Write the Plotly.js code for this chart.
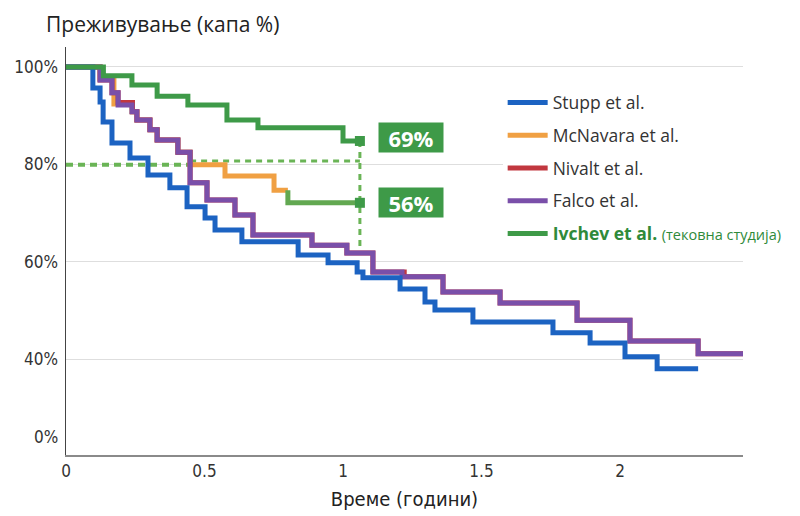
<!DOCTYPE html>
<html>
<head>
<meta charset="utf-8">
<script src="https://cdn.plot.ly/plotly-3.0.1.min.js"></script>
<style>html,body{margin:0;padding:0;background:#fff;}#chart{width:800px;height:516px;}</style>
</head>
<body>
<div id="chart"></div>
<script>
// ---- data ----
const seriesNames = ['Stupp et al.', 'McNavara et al.', 'Nivalt et al.', 'Falco et al.', 'Ivchev et al.'];

const stuppTime = [0, 0.097, 0.123, 0.134, 0.166, 0.231, 0.296, 0.375, 0.437, 0.502, 0.538, 0.635, 0.838, 0.946, 1.051, 1.072, 1.206, 1.296, 1.332, 1.469, 1.758, 1.892, 2.018, 2.134, 2.282];
const stuppSurv = [100, 95.7, 92.8, 88.7, 84.4, 81.3, 77.8, 75.2, 71.3, 69.0, 66.5, 64.1, 61.4, 59.8, 57.9, 56.7, 54.4, 51.7, 50.1, 47.6, 45.4, 43.3, 40.5, 38.0, 38.0];

const mcnavaraTime = [0, 0.123, 0.173, 0.238, 0.256, 0.303, 0.329, 0.404, 0.448, 0.574, 0.751, 0.801];
const mcnavaraSurv = [100, 97.6, 92.4, 90.8, 89.1, 87.1, 85.0, 82.5, 79.9, 77.6, 74.7, 74.7];

const nivaltTime = [0, 0.123, 0.166, 0.188, 0.240, 0.256, 0.303, 0.329, 0.404, 0.448, 0.509, 0.610, 0.675, 0.888, 1.014, 1.108, 1.221, 1.361, 1.567, 1.845, 2.036, 2.282, 2.444];
const nivaltSurv = [100, 97.3, 94.7, 92.7, 90.8, 89.1, 87.1, 85.0, 82.5, 76.2, 72.7, 69.6, 65.5, 63.4, 61.8, 57.9, 56.9, 53.8, 51.5, 48.0, 43.7, 41.1, 41.1];

const falcoTime = [0, 0.123, 0.166, 0.188, 0.238, 0.256, 0.303, 0.329, 0.404, 0.448, 0.509, 0.610, 0.675, 0.888, 1.014, 1.108, 1.213, 1.361, 1.567, 1.845, 2.036, 2.282, 2.444];
const falcoSurv = [100, 97.3, 94.7, 92.2, 90.8, 89.1, 87.1, 85.0, 82.5, 76.2, 72.7, 69.6, 65.5, 63.4, 61.8, 57.9, 56.9, 53.8, 51.5, 48.0, 43.7, 41.1, 41.1];

const ivchevTime = [0, 0.135, 0.238, 0.329, 0.440, 0.581, 0.693, 1.0, 1.061];
const ivchevSurv = [100, 98.2, 96.3, 94.0, 92.2, 89.1, 87.5, 84.8, 84.8];

// Ivchev comparison tail (green continuation of the orange curve)
const tailTime = [0.801, 1.061];
const tailSurv = [74.7, 72.1];

const endLabels = ['69%', '56%'];
const refLevel = [80.3];
const refDropTo = [61.4];

const xTickVals = [0, 0.5, 1, 1.5, 2];
const xTickText = ['0', '0.5', '1', '1.5', '2'];
const yTickVals = [40, 60, 80, 100];
const yTickText = ['40%', '60%', '80%', '100%'];
const yZeroPos = [23.9];
const yZeroText = ['0%'];

// ---- styles ----
const C = {
  stupp: '#1c63c2', mcn: '#f0a043', niv: '#c1373f', falco: '#7a4fa9',
  iv: '#3e9a48', tail: '#62a851', ref: '#6ab456', box: '#3e9a48'
};
const condFont = '"Liberation Sans Narrow", "DejaVu Sans Condensed", "Open Sans", sans-serif';
const mainFont = '"Open Sans", "Noto Sans", sans-serif';

const tEnd = ivchevTime[ivchevTime.length - 1];
const xMin = 0, xMax = 2.444;

function km(name, x, y, color, rank, showlegend) {
  return {
    type: 'scatter', mode: 'lines', name: name, x: x, y: y,
    line: {shape: 'hv', color: color, width: 5},
    legendrank: rank, legendgroup: 'g' + rank, showlegend: showlegend !== false,
    hoverinfo: 'skip'
  };
}

function helper(obj) {
  return Object.assign({type: 'scatter', showlegend: false, hoverinfo: 'skip', legendgroup: 'helper'}, obj);
}

const traces = [
  // dotted reference lines
  helper({mode: 'lines', x: [xMin, falcoTime[9]], y: [refLevel[0] - 0.4, refLevel[0] - 0.4],
   line: {color: C.ref, width: 4, dash: '7px,5px'}}),
  helper({mode: 'lines', x: [falcoTime[9], tEnd], y: [refLevel[0] + 0.4, refLevel[0] + 0.4],
   line: {color: C.ref, width: 3, dash: '6px,5px'}}),
  helper({mode: 'lines', x: [tEnd, tEnd], y: [ivchevSurv[ivchevSurv.length - 1], refDropTo[0]],
   line: {color: C.ref, width: 3, dash: '6px,5px'}}),
  km(seriesNames[1], mcnavaraTime, mcnavaraSurv, C.mcn, 2),
  km(seriesNames[2], nivaltTime, nivaltSurv, C.niv, 3),
  km(seriesNames[3], falcoTime, falcoSurv, C.falco, 4),
  km(seriesNames[0], stuppTime, stuppSurv, C.stupp, 1),
  helper({mode: 'lines', x: tailTime, y: tailSurv, line: {shape: 'vh', color: C.tail, width: 5}}),
  km('<span style="color:#2f8a3a"><b>' + seriesNames[4] + '</b> <span style="font-size:14.5px">(тековна студија)</span></span>',
     ivchevTime, ivchevSurv, C.iv, 5),
  helper({mode: 'markers',
   x: [tEnd, tailTime[tailTime.length - 1]],
   y: [ivchevSurv[ivchevSurv.length - 1], tailSurv[tailSurv.length - 1]],
   marker: {symbol: 'square', size: 10, color: C.iv}})
];

const annotations = [
  {x: tEnd, y: ivchevSurv[ivchevSurv.length - 1], xref: 'x', yref: 'y', text: '<b>' + endLabels[0] + '</b>',
   showarrow: false, xanchor: 'left', yanchor: 'middle', xshift: 18, yshift: 3,
   font: {family: mainFont, size: 22, color: '#fff'}, bgcolor: C.box, width: 62, height: 27, borderpad: 1},
  {x: tailTime[tailTime.length - 1], y: tailSurv[tailSurv.length - 1], xref: 'x', yref: 'y', text: '<b>' + endLabels[1] + '</b>',
   showarrow: false, xanchor: 'left', yanchor: 'middle', xshift: 18, yshift: 0,
   font: {family: mainFont, size: 22, color: '#fff'}, bgcolor: C.box, width: 62, height: 27, borderpad: 1},
  {x: 0, y: yZeroPos[0], xref: 'paper', yref: 'y', text: yZeroText[0], showarrow: false,
   xanchor: 'right', yanchor: 'middle', xshift: -6, font: {family: condFont, size: 17, color: '#333'}}
];

const layout = {
  width: 800, height: 516,
  margin: {l: 66, r: 57, t: 47, b: 61, pad: 0},
  paper_bgcolor: '#ffffff', plot_bgcolor: '#ffffff',
  showlegend: true,
  title: {text: 'Преживување (капа %)', font: {family: mainFont, size: 21, color: '#222'},
          x: 46 / 800, xref: 'container', xanchor: 'left', y: 1 - 25 / 516, yref: 'container', yanchor: 'middle'},
  xaxis: {
    range: [xMin, xMax], tickvals: xTickVals, ticktext: xTickText,
    showgrid: false, zeroline: false, showline: true, linecolor: '#8a8a8a', linewidth: 2,
    ticks: '', tickfont: {family: condFont, size: 17, color: '#333'},
    title: {text: 'Време (години)', font: {family: condFont, size: 20, color: '#222'}, standoff: 12},
    fixedrange: true
  },
  yaxis: {
    range: [20.3, 104.1], tickvals: yTickVals, ticktext: yTickText,
    showgrid: true, gridcolor: '#dedede', gridwidth: 1, zeroline: false,
    showline: true, linecolor: '#444', linewidth: 1.5,
    ticks: '', tickfont: {family: condFont, size: 17, color: '#333'}, ticklabelstandoff: 3,
    fixedrange: true
  },
  legend: {
    x: 0.645, y: 0.908, xanchor: 'left', yanchor: 'top', bgcolor: '#ffffff',
    font: {family: mainFont, size: 17.5, color: '#333'}, itemwidth: 40, tracegroupgap: 7,
    traceorder: 'grouped'
  },
  annotations: annotations
};

Plotly.newPlot('chart', traces, layout, {staticPlot: true, displayModeBar: false});
</script>
</body>
</html>
